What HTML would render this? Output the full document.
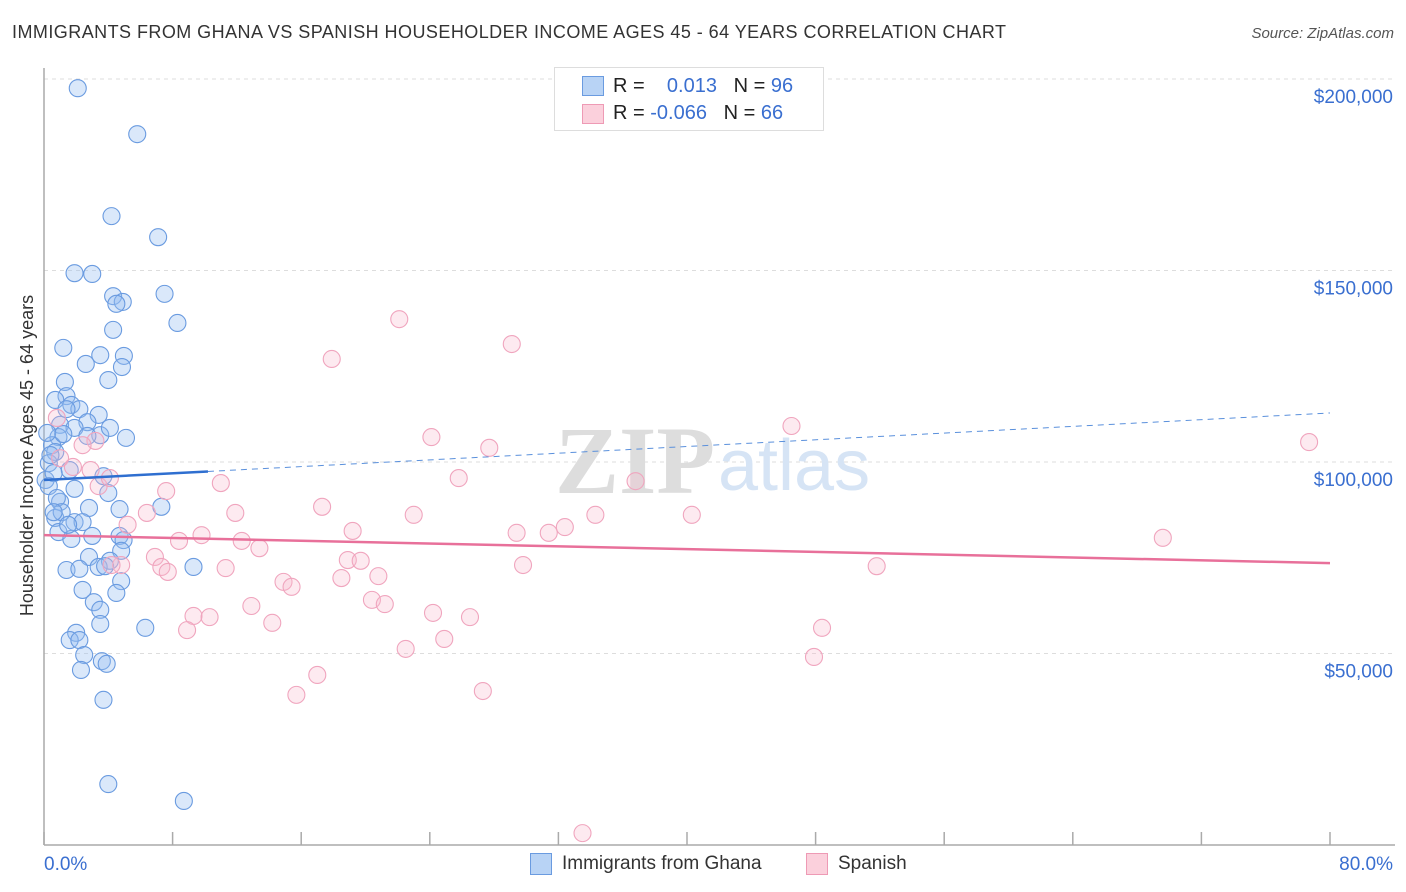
<!DOCTYPE html>
<html><head><meta charset="utf-8">
<style>
body{margin:0;background:#fff;font-family:"Liberation Sans",sans-serif;}
#wrap{position:relative;width:1406px;height:892px;overflow:hidden;}
.t{position:absolute;white-space:nowrap;}
</style></head>
<body>
<div id="wrap">
<div class="t" style="left:12px;top:22px;font-size:18px;letter-spacing:0.45px;color:#333;">IMMIGRANTS FROM GHANA VS SPANISH HOUSEHOLDER INCOME AGES 45 - 64 YEARS CORRELATION CHART</div>
<div class="t" style="right:12px;top:25px;font-size:15px;color:#555;font-style:italic;">Source: ZipAtlas.com</div>
<div class="t" style="left:-150px;top:445px;width:355px;text-align:center;transform:rotate(-90deg);font-size:18px;color:#333;">Householder Income Ages 45 - 64 years</div>
<svg id="svg" width="1406" height="892" style="position:absolute;left:0;top:0"></svg>
<div style="position:absolute;left:554px;top:67px;width:268px;height:62px;border:1px solid #ddd;background:#fff;">
 <div style="position:absolute;left:27px;top:8px;width:20px;height:18px;background:#b8d3f5;border:1px solid #6a9be0;"></div>
 <div class="t" style="left:58px;top:7px;font-size:20px;color:#222;">R = &nbsp;&nbsp;&nbsp;<span style="color:#3a6fd0">0.013</span>&nbsp;&nbsp;&nbsp;N = <span style="color:#3a6fd0">96</span></div>
 <div style="position:absolute;left:27px;top:36px;width:20px;height:18px;background:#fbd0dc;border:1px solid #ee9ab5;"></div>
 <div class="t" style="left:58px;top:34px;font-size:20px;color:#222;">R = <span style="color:#3a6fd0">-0.066</span>&nbsp;&nbsp;&nbsp;N = <span style="color:#3a6fd0">66</span></div>
</div>
<div style="position:absolute;left:530px;top:853px;">
 <div style="position:absolute;left:0;top:0;width:20px;height:20px;background:#b8d3f5;border:1px solid #6a9be0;"></div>
 <div class="t" style="left:32px;top:0;font-size:19px;color:#333;">Immigrants from Ghana</div></div>
<div style="position:absolute;left:806px;top:853px;">
 <div style="position:absolute;left:0;top:0;width:20px;height:20px;background:#fbd0dc;border:1px solid #ee9ab5;"></div>
 <div class="t" style="left:32px;top:0;font-size:19px;color:#333;">Spanish</div></div>
</div>
<script>
const xTicksLabels=["0.0%","80.0%"];
const yTickValues=[50,100,150,200];
const blueX=[2.1,5.8,4.2,7.1,1.9,3.0,7.5,4.3,4.9,4.5,8.3,4.3,1.2,3.5,4.97,2.6,4.85,4.0,1.3,1.4,0.7,1.7,2.2,3.4,2.7,1.0,1.9,3.5,2.7,0.9,5.1,0.5,0.7,0.3,1.6,3.7,0.1,1.9,4.0,7.3,1.0,2.8,4.7,0.7,1.9,2.4,0.9,1.7,3.0,4.7,4.95,4.8,2.8,4.1,1.4,2.2,3.4,3.8,9.3,4.8,2.4,4.5,3.1,3.5,3.5,6.3,2.0,1.6,2.2,2.5,3.6,3.9,2.3,3.7,4.0,8.7,0.4,0.6,0.3,0.8,1.1,1.5,0.2,1.2,4.1,1.4,0.6];
const blueY=[197.6,185.6,164.2,158.7,149.3,149.1,143.9,143.3,141.8,141.3,136.3,134.5,129.8,127.9,127.7,125.6,124.8,121.4,120.9,117.2,116.2,114.9,113.8,112.3,110.4,109.7,108.9,107.0,106.8,106.5,106.3,104.4,102.6,99.7,97.9,96.3,95.3,93.0,91.9,88.3,89.6,88.0,87.7,85.4,84.3,84.3,81.7,79.9,80.7,80.7,79.6,76.8,75.2,74.2,71.8,72.1,72.6,72.8,72.6,68.9,66.6,65.8,63.4,61.4,57.7,56.7,55.4,53.5,53.5,49.6,48.0,47.3,45.7,37.9,15.9,11.5,101.8,97.1,93.7,90.6,86.9,83.6,107.6,107.3,108.9,113.8,86.9];
const pinkX=[22.1,29.1,17.9,46.5,78.7,24.1,27.7,3.2,0.8,1.8,25.8,36.8,11.0,3.4,7.6,17.3,11.9,6.4,23.0,34.3,40.3,5.2,32.4,19.2,29.4,31.4,9.8,69.6,8.4,12.3,13.4,6.9,18.9,19.7,4.8,7.3,29.8,11.3,7.7,51.8,20.8,18.5,14.9,15.4,20.4,21.2,12.9,24.2,9.3,10.3,26.5,14.2,48.4,8.9,24.9,22.5,47.9,17.0,15.7,27.3,33.5,2.4,4.2,1.0,2.9,4.1];
const pinkY=[137.3,130.8,126.9,109.4,105.2,106.5,103.7,105.5,111.5,98.7,95.8,95.0,94.5,93.7,92.4,88.3,86.7,86.7,86.2,86.2,86.2,83.6,83.0,82.0,81.5,81.5,80.9,80.2,79.4,79.4,77.5,75.2,74.4,74.2,73.1,72.6,73.1,72.3,71.3,72.8,70.2,69.7,68.7,67.4,64.0,62.9,62.4,60.6,59.8,59.5,59.5,58.0,56.7,56.1,53.8,51.2,49.1,44.4,39.2,40.2,3.1,104.4,73.1,101.0,97.9,95.8];
const blueTrend=[95.3,112.8];
const pinkTrend=[80.9,73.6];

const X0=44,X1=1330,Y0=845,PXK=3.83;
const sx=v=>X0+(v/80)*(X1-X0);
const sy=v=>Y0-v*PXK;
const svg=document.getElementById('svg');
const NS='http://www.w3.org/2000/svg';
function mk(tag,attrs){const e=document.createElementNS(NS,tag);for(const k in attrs)e.setAttribute(k,attrs[k]);svg.appendChild(e);return e;}
yTickValues.forEach(v=>{
 const g=mk('line',{x1:X0,x2:1395,y1:sy(v),y2:sy(v),stroke:'#ddd','stroke-dasharray':'4,4'});
 
 
 const t=mk('text',{x:1393,y:sy(v)+24,'text-anchor':'end','font-size':19,fill:'#3a6fd0','font-family':'Liberation Sans, sans-serif'});
 t.textContent='$'+(v*1000).toLocaleString('en-US');
 
 
});
const ax=mk('line',{x1:X0,x2:X0,y1:68,y2:Y0,stroke:'#aaa','stroke-width':1.5});


const bx=mk('line',{x1:X0,x2:1395,y1:Y0,y2:Y0,stroke:'#aaa','stroke-width':1.5});


for(let i=0;i<=10;i++){
 const tk=mk('line',{x1:sx(i*8),x2:sx(i*8),y1:Y0-13,y2:Y0,stroke:'#aaa','stroke-width':1.5});
 
 
}
[[0,'start',44],[80,'end',1393]].forEach((d,i)=>{
 const t=mk('text',{x:d[2],y:870,'text-anchor':d[1],'font-size':19,fill:'#3a6fd0','font-family':'Liberation Sans, sans-serif'});
 t.textContent=xTicksLabels[i];
 
 
});
const w1=mk('text',{x:555,y:493,'font-size':96,fill:'#ddd','font-family':'Liberation Serif, serif','font-weight':'bold'});
w1.textContent='ZIP';


const w2=mk('text',{x:718,y:490,'font-size':72,fill:'#d6e4f5','font-family':'Liberation Sans, sans-serif'});
w2.textContent='atlas';


blueX.forEach((x,i)=>{
 const c=mk('circle',{cx:sx(x),cy:sy(blueY[i]),r:8.5,fill:'rgba(150,190,240,0.35)',stroke:'#6a9be0','stroke-width':1.1});
 
 
});
pinkX.forEach((x,i)=>{
 const c=mk('circle',{cx:sx(x),cy:sy(pinkY[i]),r:8.5,fill:'rgba(248,185,205,0.3)',stroke:'#f0a5be','stroke-width':1.1});
 
 
});
const bSolidEnd=10.2;
const bAt=x=>blueTrend[0]+(blueTrend[1]-blueTrend[0])*x/80;
const l1=mk('line',{x1:sx(0),y1:sy(blueTrend[0]),x2:sx(bSolidEnd),y2:sy(bAt(bSolidEnd)),stroke:'#2f6fd0','stroke-width':2.5});


const l2=mk('line',{x1:sx(bSolidEnd),y1:sy(bAt(bSolidEnd)),x2:sx(80),y2:sy(blueTrend[1]),stroke:'#5a90dc','stroke-width':1,'stroke-dasharray':'6,5'});


const l3=mk('line',{x1:sx(0),y1:sy(pinkTrend[0]),x2:sx(80),y2:sy(pinkTrend[1]),stroke:'#e8709a','stroke-width':2.5});


</script>
</body></html>
